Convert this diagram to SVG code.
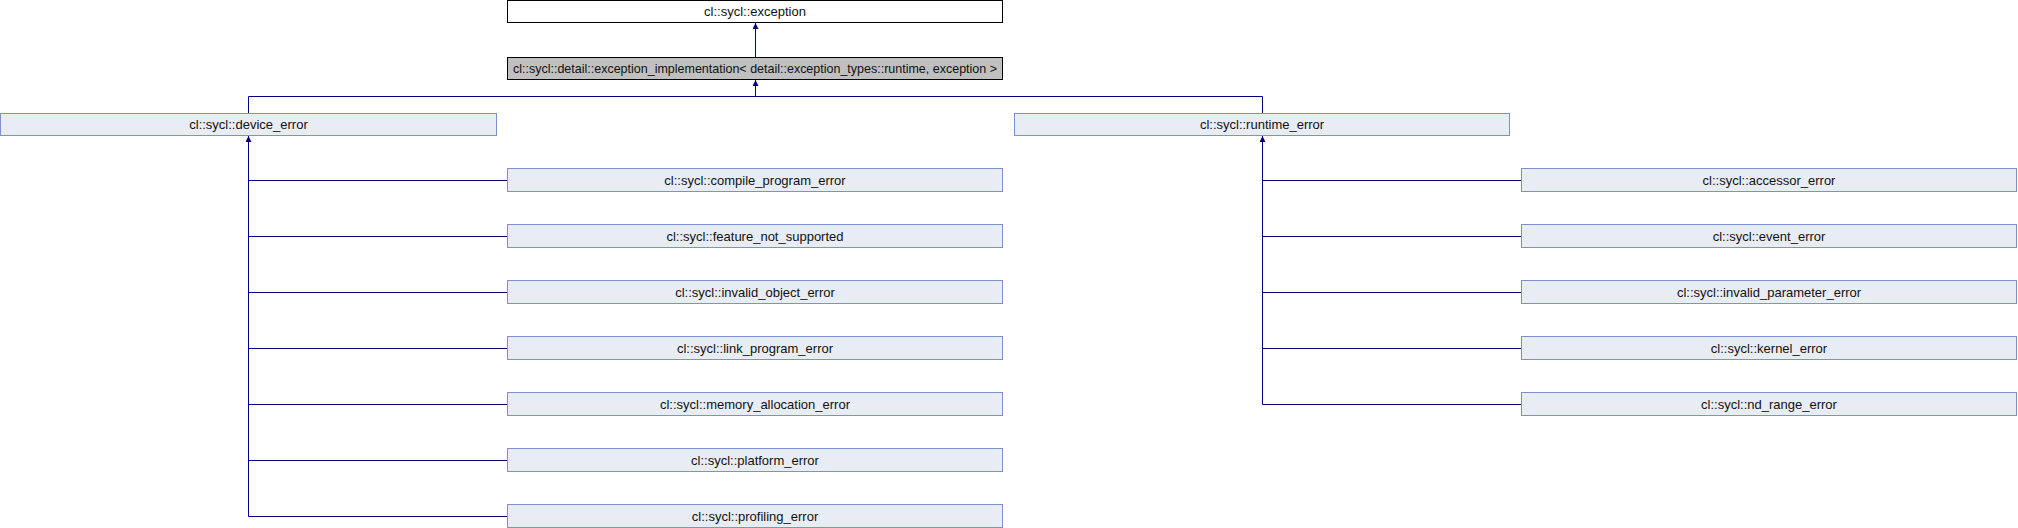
<svg xmlns="http://www.w3.org/2000/svg" width="2018" height="528" viewBox="0 0 2018 528">
<style>
.n rect{fill:#e8ecf5;stroke:#7b93c8;stroke-width:1}
.n text,.t text,.g text{font-family:"Liberation Sans",Arial,sans-serif;font-size:13px;fill:#111;text-anchor:middle;dominant-baseline:central}
.t rect{fill:#fff;stroke:#000;stroke-width:1}
.g rect{fill:#c0c0c0;stroke:#000;stroke-width:1}
#edges line{stroke:#000080;stroke-width:1;fill:none}
#edges .a{marker-start:url(#arr)}
</style>
<defs>
<marker id="arr" viewBox="0 0 10 10" refX="10" refY="5" markerUnits="userSpaceOnUse" markerWidth="6" markerHeight="6" orient="auto-start-reverse">
<path d="M0,0 L10,5 L0,10 z" fill="#000080"/>
</marker>
</defs>
<rect width="2018" height="528" fill="#fff"/>
<g id="edges">
<line class="a" x1="755.5" y1="23" x2="755.5" y2="57"/>
<line class="a" x1="755.5" y1="80" x2="755.5" y2="96.5"/>
<line x1="248.5" y1="96.5" x2="1262.5" y2="96.5"/>
<line x1="248.5" y1="96.5" x2="248.5" y2="113"/>
<line x1="1262.5" y1="96.5" x2="1262.5" y2="113"/>
<line class="a" x1="248.5" y1="136" x2="248.5" y2="516.5"/>
<line x1="248.5" y1="180.5" x2="507" y2="180.5"/>
<line x1="248.5" y1="236.5" x2="507" y2="236.5"/>
<line x1="248.5" y1="292.5" x2="507" y2="292.5"/>
<line x1="248.5" y1="348.5" x2="507" y2="348.5"/>
<line x1="248.5" y1="404.5" x2="507" y2="404.5"/>
<line x1="248.5" y1="460.5" x2="507" y2="460.5"/>
<line x1="248.5" y1="516.5" x2="507" y2="516.5"/>
<line class="a" x1="1262.5" y1="136" x2="1262.5" y2="404.5"/>
<line x1="1262.5" y1="180.5" x2="1521" y2="180.5"/>
<line x1="1262.5" y1="236.5" x2="1521" y2="236.5"/>
<line x1="1262.5" y1="292.5" x2="1521" y2="292.5"/>
<line x1="1262.5" y1="348.5" x2="1521" y2="348.5"/>
<line x1="1262.5" y1="404.5" x2="1521" y2="404.5"/>
</g>
<g id="exception" class="t"><rect x="507.5" y="0.5" width="495" height="22"/><text x="755" y="11.5">cl::sycl::exception</text></g>
<g id="exception_impl" class="g"><rect x="507.5" y="57.5" width="495" height="22"/><text x="755" y="68.5" textLength="484" lengthAdjust="spacingAndGlyphs">cl::sycl::detail::exception_implementation&lt; detail::exception_types::runtime, exception &gt;</text></g>
<g id="device_error" class="n"><rect x="0.5" y="113.5" width="496" height="22"/><text x="248.5" y="124.5">cl::sycl::device_error</text></g>
<g id="runtime_error" class="n"><rect x="1014.5" y="113.5" width="495" height="22"/><text x="1262" y="124.5">cl::sycl::runtime_error</text></g>
<g id="compile_program_error" class="n"><rect x="507.5" y="168.5" width="495" height="23"/><text x="755" y="180">cl::sycl::compile_program_error</text></g>
<g id="feature_not_supported" class="n"><rect x="507.5" y="224.5" width="495" height="23"/><text x="755" y="236">cl::sycl::feature_not_supported</text></g>
<g id="invalid_object_error" class="n"><rect x="507.5" y="280.5" width="495" height="23"/><text x="755" y="292">cl::sycl::invalid_object_error</text></g>
<g id="link_program_error" class="n"><rect x="507.5" y="336.5" width="495" height="23"/><text x="755" y="348">cl::sycl::link_program_error</text></g>
<g id="memory_allocation_error" class="n"><rect x="507.5" y="392.5" width="495" height="23"/><text x="755" y="404">cl::sycl::memory_allocation_error</text></g>
<g id="platform_error" class="n"><rect x="507.5" y="448.5" width="495" height="23"/><text x="755" y="460">cl::sycl::platform_error</text></g>
<g id="profiling_error" class="n"><rect x="507.5" y="504.5" width="495" height="23"/><text x="755" y="516">cl::sycl::profiling_error</text></g>
<g id="accessor_error" class="n"><rect x="1521.5" y="168.5" width="495" height="23"/><text x="1769" y="180">cl::sycl::accessor_error</text></g>
<g id="event_error" class="n"><rect x="1521.5" y="224.5" width="495" height="23"/><text x="1769" y="236">cl::sycl::event_error</text></g>
<g id="invalid_parameter_error" class="n"><rect x="1521.5" y="280.5" width="495" height="23"/><text x="1769" y="292">cl::sycl::invalid_parameter_error</text></g>
<g id="kernel_error" class="n"><rect x="1521.5" y="336.5" width="495" height="23"/><text x="1769" y="348">cl::sycl::kernel_error</text></g>
<g id="nd_range_error" class="n"><rect x="1521.5" y="392.5" width="495" height="23"/><text x="1769" y="404">cl::sycl::nd_range_error</text></g>
</svg>
